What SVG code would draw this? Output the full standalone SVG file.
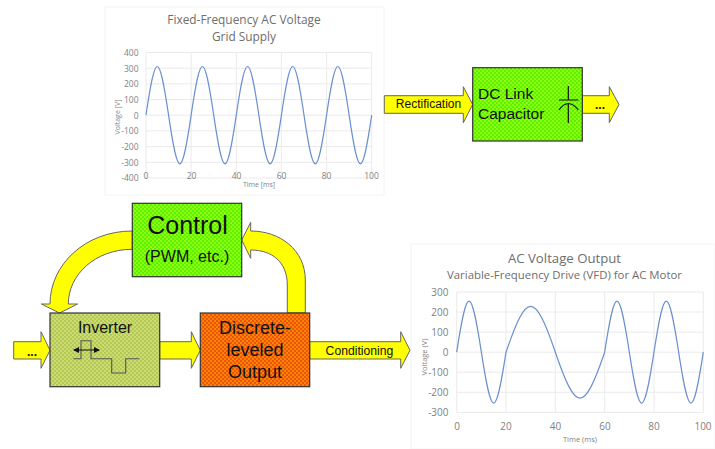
<svg xmlns="http://www.w3.org/2000/svg" width="715" height="449" viewBox="0 0 715 449">
<style>
.sans{font-family:"Liberation Sans",Arial,sans-serif;fill:#111}
.chart{font-family:"Open Sans",sans-serif;fill:#7f7f7f}
.title{fill:#6e6e6e}
.ax{font-size:8.5px}
.ax2{font-size:10px}
.grid{stroke:#eaeaea;stroke-width:1;fill:none}
.wave{stroke:#6a90d0;stroke-width:1.2;fill:none}
.arrow{fill:#ffff00;stroke:#666;stroke-width:1}
.box{stroke:#333;stroke-width:1.2}
.panel{fill:#fff;stroke:#f4f4f4;stroke-width:1}
</style>
<defs>
<pattern id="g" width="4" height="4" patternUnits="userSpaceOnUse"><rect width="4" height="4" fill="#5ff000"/><rect width="2" height="2" fill="#8cff10"/><rect x="2" y="2" width="2" height="2" fill="#8cff10"/></pattern>
<pattern id="o" width="4" height="4" patternUnits="userSpaceOnUse"><rect width="4" height="4" fill="#ff8400"/><rect width="2" height="2" fill="#ea5410"/><rect x="2" y="2" width="2" height="2" fill="#ea5410"/></pattern>
<pattern id="l" width="4" height="4" patternUnits="userSpaceOnUse"><rect width="4" height="4" fill="#d2d874"/><rect width="2" height="2" fill="#aecb54"/><rect x="2" y="2" width="2" height="2" fill="#aecb54"/></pattern>
<marker id="ah" markerWidth="6" markerHeight="6" refX="5" refY="3" orient="auto-start-reverse"><path d="M0 0L6 3L0 6z" fill="#111"/></marker>
</defs>

<g id="chart-grid-supply">
<rect class="panel" x="105" y="7" width="279" height="188"/>
<path class="grid" d="M146 52.5H371.7M146 68.2H371.7M146 83.9H371.7M146 99.6H371.7M146 115.2H371.7M146 130.9H371.7M146 146.6H371.7M146 162.3H371.7M146 178H371.7M146 52.5V178M191.1 52.5V178M236.3 52.5V178M281.4 52.5V178M326.6 52.5V178M371.7 52.5V178"/>
<path class="wave" d="M146 115.2c9.58-64.9 12.99-64.9 22.57 0c9.58 64.9 12.99 64.9 22.57 0c9.58-64.9 12.99-64.9 22.57 0c9.58 64.9 12.99 64.9 22.57 0c9.58-64.9 12.99-64.9 22.57 0c9.58 64.9 12.99 64.9 22.57 0c9.58-64.9 12.99-64.9 22.57 0c9.58 64.9 12.99 64.9 22.57 0c9.58-64.9 12.99-64.9 22.57 0c9.58 64.9 12.99 64.9 22.57 0"/>
<text class="chart title" x="244" y="24" font-size="11.9" text-anchor="middle">Fixed-Frequency AC Voltage</text>
<text class="chart title" x="244" y="40.5" font-size="11.9" text-anchor="middle">Grid Supply</text>
<g class="chart ax" text-anchor="end">
<text x="138.5" y="56">400</text><text x="138.5" y="71.5">300</text><text x="138.5" y="87">200</text><text x="138.5" y="103">100</text><text x="138.5" y="118.5">0</text><text x="138.5" y="134">-100</text><text x="138.5" y="150">-200</text><text x="138.5" y="166">-300</text><text x="138.5" y="181">-400</text>
</g>
<g class="chart ax" text-anchor="middle">
<text x="146" y="179">0</text><text x="191.5" y="179">20</text><text x="236.5" y="179">40</text><text x="281.5" y="179">60</text><text x="326.5" y="179">80</text><text x="371.5" y="179">100</text>
<text x="259" y="187" font-size="7">Time [ms]</text>
<text transform="translate(119.5 117) rotate(-90)" font-size="7">Voltage [V]</text>
</g>
</g>

<g id="chart-output">
<rect class="panel" x="411" y="244" width="304" height="205"/>
<path class="grid" d="M456.7 292H703.3M456.7 312H703.3M456.7 332.1H703.3M456.7 352.2H703.3M456.7 372.2H703.3M456.7 392.3H703.3M456.7 412.3H703.3M456.7 292V412.3M506 292V412.3M555.3 292V412.3M604.7 292V412.3M654 292V412.3M703.3 292V412.3"/>
<path class="wave" d="M456.7 352.2c10.47-68 14.19-68 24.66 0c10.47 68 14.19 68 24.66 0c20.93-61.2 28.39-61.2 49.32 0c20.93 61.2 28.39 61.2 49.32 0c10.47-68 14.19-68 24.66 0c10.47 68 14.19 68 24.66 0c10.47-68 14.19-68 24.66 0c10.47 68 14.19 68 24.66 0"/>
<text class="chart title" x="564.5" y="263" font-size="13.2" text-anchor="middle">AC Voltage Output</text>
<text class="chart title" x="564.5" y="279" font-size="11.4" text-anchor="middle">Variable-Frequency Drive (VFD) for AC Motor</text>
<g class="chart ax2" text-anchor="end">
<text x="448.5" y="296">300</text><text x="448.5" y="316">200</text><text x="448.5" y="336">100</text><text x="448.5" y="356">0</text><text x="448.5" y="376">-100</text><text x="448.5" y="396">-200</text><text x="448.5" y="416">-300</text>
</g>
<g class="chart ax2" text-anchor="middle">
<text x="457" y="430">0</text><text x="506" y="430">20</text><text x="555.5" y="430">40</text><text x="605" y="430">60</text><text x="654" y="430">80</text><text x="703" y="430">100</text>
<text x="580" y="442" font-size="7.5">Time (ms)</text>
<text transform="translate(427 357) rotate(-90)" font-size="7.5">Voltage (V)</text>
</g>
</g>

<g id="connectors">
<path class="arrow" d="M384.3 95.7H463.3V86.7L472.7 104.5L463.3 122.7V113.3H384.3z"/>
<path class="arrow" d="M582.3 95.7H609.3V86.7L619 104.5L609.3 122.7V113.3H582.3z"/>
<path class="arrow" d="M13.7 341.7H41V331.7L50 350.3L41 368.3V359H13.7z"/>
<path class="arrow" d="M159.7 341.7H191.3V331.7L200.3 350.3L191.3 368.3V359H159.7z"/>
<path class="arrow" d="M309.7 341.7H400.7V331.7L410 350.3L400.7 368.3V359H309.7z"/>
<path class="arrow" d="M132.3 231C85 231 50 265 50 304H41.3L59.5 313L77.7 304H68.3C68.3 275 95 249.3 132.3 249.3z"/>
<path class="arrow" d="M305.3 313V280C305.3 250 280 231 250.7 231V222.3L241.7 240L250.7 258.3V250C272 250 287.3 262 287.3 285V313z"/>
<text class="sans" x="428.5" y="108" font-size="12" text-anchor="middle">Rectification</text>
<text class="sans" x="600" y="109" font-size="12" font-weight="bold" text-anchor="middle">...</text>
<text class="sans" x="32" y="356" font-size="12" font-weight="bold" text-anchor="middle">...</text>
<text class="sans" x="359.5" y="354.5" font-size="12.2" text-anchor="middle">Conditioning</text>
</g>

<g id="node-dc-link">
<rect class="box" x="472.7" y="67.7" width="109.6" height="73.3" fill="url(#g)"/>
<text class="sans" x="478" y="99" font-size="15.5">DC Link</text>
<text class="sans" x="478" y="119" font-size="15.5">Capacitor</text>
<path d="M568.3 86V100M559 100H578.3M559 110Q568.3 97 578.3 110M568.3 103V123" fill="none" stroke="#111" stroke-width="1.2"/>
</g>
<g id="node-control">
<rect class="box" x="132.3" y="203.3" width="109.4" height="73.4" fill="url(#g)"/>
<text class="sans" x="187.5" y="233.5" font-size="25" text-anchor="middle">Control</text>
<text class="sans" x="187" y="262" font-size="16" text-anchor="middle">(PWM, etc.)</text>
</g>
<g id="node-inverter">
<rect class="box" x="50" y="313" width="109.7" height="73.7" fill="url(#l)"/>
<text class="sans" x="105" y="332.5" font-size="16" text-anchor="middle">Inverter</text>
<path d="M73.3 358.7H81V340.7H91V358.7H111.7V373H125.7V358.7H139.3" fill="none" stroke="#555" stroke-width="1.1"/>
<path d="M74 350H99" fill="none" stroke="#111" stroke-width="1" marker-start="url(#ah)" marker-end="url(#ah)"/>
</g>
<g id="node-output">
<rect class="box" x="200.3" y="313" width="109.4" height="73.7" fill="url(#o)"/>
<text class="sans" x="255" y="333.5" font-size="18" text-anchor="middle">Discrete-</text>
<text class="sans" x="255" y="355.5" font-size="18" text-anchor="middle">leveled</text>
<text class="sans" x="255" y="377.5" font-size="18" text-anchor="middle">Output</text>
</g>
</svg>
